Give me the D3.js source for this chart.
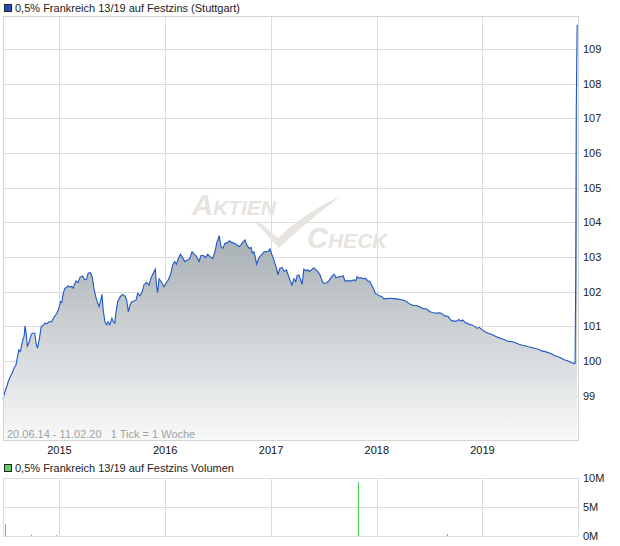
<!DOCTYPE html>
<html>
<head>
<meta charset="utf-8">
<script src="https://cdn.jsdelivr.net/npm/d3@7.9.0/dist/d3.min.js"></script>
<style>
  body { margin: 0; background: #fff; }
  svg text { font-family: "Liberation Sans", Arial, sans-serif; white-space: pre; }
</style>
</head>
<body>
<svg id="chart" width="620" height="546"></svg>
<script>
const title = '0,5% Frankreich 13/19 auf Festzins (Stuttgart)';
const volTitle = '0,5% Frankreich 13/19 auf Festzins Volumen';
const periodText = '20.06.14 - 11.02.20   1 Tick = 1 Woche';

// weekly-ish price ticks
const dates = [
  '2014-06-20','2014-06-27','2014-07-03','2014-07-08','2014-07-14','2014-07-22','2014-07-28','2014-08-04',
  '2014-08-08','2014-08-14','2014-08-18','2014-08-21','2014-08-26','2014-09-01','2014-09-04','2014-09-08',
  '2014-09-12','2014-09-18','2014-09-25','2014-09-29','2014-10-08','2014-10-12','2014-10-17','2014-10-23',
  '2014-10-30','2014-11-06','2014-11-12','2014-11-18','2014-11-26','2014-12-05','2014-12-13','2014-12-22',
  '2014-12-29','2015-01-05','2015-01-09','2015-01-14','2015-01-20','2015-01-26','2015-01-31','2015-02-06',
  '2015-02-12','2015-02-17','2015-02-27','2015-03-06','2015-03-13','2015-03-21','2015-03-30','2015-04-05',
  '2015-04-10','2015-04-18','2015-04-24','2015-04-30','2015-05-06','2015-05-13','2015-05-18','2015-05-24',
  '2015-05-28','2015-06-01','2015-06-07','2015-06-13','2015-06-18','2015-06-24','2015-07-01','2015-07-06',
  '2015-07-11','2015-07-15','2015-07-21','2015-07-29','2015-08-06','2015-08-15','2015-08-21','2015-08-27',
  '2015-09-02','2015-09-08','2015-09-16','2015-09-23','2015-09-28','2015-10-06','2015-10-14','2015-10-20',
  '2015-10-29','2015-11-06','2015-11-13','2015-11-21','2015-11-28','2015-12-02','2015-12-06','2015-12-11',
  '2015-12-20','2015-12-28','2016-01-04','2016-01-12','2016-01-20','2016-01-27','2016-02-03','2016-02-09',
  '2016-02-16','2016-02-23','2016-03-01','2016-03-09','2016-03-18','2016-03-26','2016-04-03','2016-04-10',
  '2016-04-19','2016-04-27','2016-05-04','2016-05-12','2016-05-20','2016-05-27','2016-06-04','2016-06-13',
  '2016-06-21','2016-06-27','2016-07-03','2016-07-06','2016-07-12','2016-07-18','2016-07-26','2016-08-02',
  '2016-08-09','2016-08-17','2016-08-26','2016-09-04','2016-09-12','2016-09-19','2016-09-27','2016-10-03',
  '2016-10-09','2016-10-17','2016-10-24','2016-10-28','2016-11-03','2016-11-08','2016-11-12','2016-11-17',
  '2016-11-23','2016-12-01','2016-12-08','2016-12-16','2016-12-24','2016-12-28','2017-01-03','2017-01-08',
  '2017-01-14','2017-01-20','2017-01-25','2017-01-31','2017-02-08','2017-02-15','2017-02-23','2017-03-01',
  '2017-03-07','2017-03-14','2017-03-21','2017-03-27','2017-04-01','2017-04-07','2017-04-13','2017-04-18',
  '2017-04-24','2017-05-01','2017-05-07','2017-05-13','2017-05-21','2017-05-29','2017-06-05','2017-06-13',
  '2017-06-19','2017-06-25','2017-06-30','2017-07-08','2017-07-18','2017-07-26','2017-08-01','2017-08-07',
  '2017-08-13','2017-08-21','2017-08-30','2017-09-07','2017-09-13','2017-09-24','2017-10-06','2017-10-14',
  '2017-10-20','2017-10-25','2017-11-01','2017-11-09','2017-11-17','2017-11-24','2017-11-30','2017-12-08',
  '2017-12-14','2017-12-20','2017-12-27','2018-01-02','2018-01-09','2018-01-18','2018-01-26','2018-02-15',
  '2018-03-10','2018-04-02','2018-04-14','2018-04-25','2018-05-07','2018-05-19','2018-05-30','2018-06-10',
  '2018-06-22','2018-07-04','2018-07-15','2018-07-27','2018-08-07','2018-08-16','2018-08-24','2018-09-05',
  '2018-09-13','2018-09-22','2018-10-04','2018-10-11','2018-10-18','2018-10-25','2018-11-02','2018-11-13',
  '2018-11-25','2018-12-06','2018-12-14','2018-12-21','2018-12-29','2019-01-09','2019-01-21','2019-02-01',
  '2019-02-13','2019-02-24','2019-03-08','2019-03-19','2019-03-31','2019-04-12','2019-04-23','2019-05-05',
  '2019-05-16','2019-05-28','2019-06-08','2019-06-20','2019-07-01','2019-07-13','2019-07-25','2019-08-05',
  '2019-08-16','2019-08-28','2019-09-08','2019-09-20','2019-10-01','2019-10-13','2019-10-24','2019-11-05',
  '2019-11-13','2019-11-17','2019-11-19','2019-11-21','2019-11-24'
];
const prices = [
  98.90, 99.12, 99.26, 99.40, 99.53, 99.65, 99.79, 99.89,
  100.08, 100.32, 100.27, 100.34, 100.56, 100.72, 101.01, 100.80,
  100.43, 100.53, 100.75, 100.80, 100.80, 100.51, 100.37, 100.61,
  100.99, 101.02, 101.09, 101.07, 101.13, 101.13, 101.26, 101.36,
  101.49, 101.71, 101.69, 101.95, 102.10, 102.12, 102.17, 102.13,
  102.15, 102.10, 102.31, 102.26, 102.41, 102.45, 102.34, 102.36,
  102.53, 102.55, 102.43, 102.10, 101.86, 101.67, 101.57, 101.76,
  101.92, 101.47, 101.13, 101.04, 101.13, 101.04, 101.23, 101.13,
  101.09, 101.38, 101.71, 101.84, 101.92, 101.88, 101.76, 101.42,
  101.62, 101.71, 101.73, 101.76, 101.95, 101.88, 102.00, 102.20,
  102.27, 102.19, 102.39, 102.53, 102.65, 102.19, 101.97, 102.37,
  102.27, 102.14, 102.24, 102.34, 102.50, 102.77, 102.87, 102.79,
  102.96, 103.08, 102.98, 102.87, 102.91, 102.96, 103.15, 103.08,
  103.01, 102.87, 103.04, 103.04, 102.98, 103.08, 103.01, 102.96,
  103.15, 103.40, 103.54, 103.61, 103.30, 103.25, 103.40, 103.40,
  103.47, 103.42, 103.40, 103.35, 103.30, 103.35, 103.44, 103.49,
  103.35, 103.25, 103.27, 103.11, 103.15, 102.96, 102.79, 102.91,
  103.01, 103.08, 103.15, 103.15, 103.17, 103.23, 103.08, 102.98,
  102.82, 102.67, 102.48, 102.67, 102.70, 102.58, 102.63, 102.48,
  102.34, 102.19, 102.37, 102.29, 102.46, 102.48, 102.34, 102.21,
  102.65, 102.60, 102.63, 102.58, 102.63, 102.69, 102.63, 102.56,
  102.48, 102.34, 102.24, 102.24, 102.29, 102.39, 102.46, 102.50,
  102.40, 102.43, 102.43, 102.46, 102.31, 102.31, 102.31, 102.34,
  102.31, 102.43, 102.39, 102.40, 102.37, 102.39, 102.31, 102.29,
  102.19, 102.10, 101.95, 101.92, 101.88, 101.86, 101.79, 101.81,
  101.79, 101.76, 101.71, 101.64, 101.60, 101.60, 101.56, 101.51,
  101.50, 101.42, 101.39, 101.38, 101.39, 101.35, 101.30, 101.28,
  101.18, 101.15, 101.15, 101.20, 101.15, 101.18, 101.11, 101.07,
  101.04, 100.99, 100.94, 100.97, 100.91, 100.85, 100.80, 100.77,
  100.72, 100.68, 100.64, 100.61, 100.56, 100.56, 100.53, 100.49,
  100.46, 100.44, 100.41, 100.39, 100.36, 100.34, 100.29, 100.27,
  100.24, 100.20, 100.15, 100.12, 100.08, 100.03, 100.00, 99.95,
  99.93, 99.93, 102.35, 107.20, 109.70
];

const volDates = ['2014-06-28', '2014-09-25', '2014-12-21', '2017-10-27', '2018-08-30'];
const volumes = [2.05e6, 0.2e6, 0.15e6, 9.3e6, 0.35e6];

const yearTicks = ['2015', '2016', '2017', '2018', '2019'];
const priceTicks = [99, 100, 101, 102, 103, 104, 105, 106, 107, 108, 109];
const volTicks = [0, 5e6, 10e6];
const volTickLabels = ['0M', '5M', '10M'];

const parse = d3.timeParse('%Y-%m-%d');
const data = dates.map((d, i) => ({ date: parse(d), value: prices[i] }));
const volData = volDates.map((d, i) => ({ date: parse(d), value: volumes[i] }));

const svg = d3.select('#chart');
const pLeft = 3, pRight = 578;
const pTop = 16, pBottom = 440;
const vTop = 478, vBottom = 536;
const fs = 11;

let x = d3.scaleTime()
  .domain([parse('2014-06-20'), parse('2019-11-27')])
  .range([pLeft, pRight]);
let y = d3.scaleLinear().domain([97.72, 109.95]).range([pBottom, pTop]);
let yv = d3.scaleLinear().domain([0, 10e6]).range([vBottom, vTop]);

const crisp = (v) => Math.round(v) + 0.5;
const gridColor = '#dcdcdc';
const yearDates = yearTicks.map((t) => parse(t + '-01-01'));

// gradient for the area
let defs = svg.append('defs');
let grad = defs.append('linearGradient')
  .attr('id', 'fillGrad')
  .attr('gradientUnits', 'userSpaceOnUse')
  .attr('x1', 0).attr('x2', 0)
  .attr('y1', y(103.7)).attr('y2', pBottom);
grad.append('stop').attr('offset', 0).attr('stop-color', '#a6aeb3');
grad.append('stop').attr('offset', 1).attr('stop-color', '#f8f9f9');

// legend
svg.append('rect').attr('x', 4.5).attr('y', 4.5).attr('width', 7).attr('height', 7)
  .attr('fill', '#1f50b8').attr('stroke', '#222');
svg.append('text').attr('x', 15).attr('y', 12).attr('font-size', fs).attr('fill', '#222').text(title);

// grid of the price panel
let grid = svg.append('g');
grid.selectAll('line.h').data(priceTicks).join('line')
  .attr('x1', pLeft).attr('x2', pRight)
  .attr('y1', (d) => crisp(y(d))).attr('y2', (d) => crisp(y(d)))
  .attr('stroke', gridColor);
grid.selectAll('line.v').data(yearDates).join('line')
  .attr('x1', (d) => crisp(x(d))).attr('x2', (d) => crisp(x(d)))
  .attr('y1', pTop).attr('y2', pBottom)
  .attr('stroke', gridColor);

// watermark
let wm = svg.append('g').attr('fill', '#e7e3de').attr('font-style', 'italic').attr('font-weight', 'bold');
let t1 = wm.append('text').attr('x', 192).attr('y', 215);
t1.append('tspan').attr('font-size', 29).text('A');
t1.append('tspan').attr('font-size', 21).text('KTIEN');
let t2 = wm.append('text').attr('x', 307).attr('y', 248);
t2.append('tspan').attr('font-size', 29).text('C');
t2.append('tspan').attr('font-size', 21).text('HECK');
wm.append('path').attr('d', 'M256,223 L262,224 L278,238 Q305,212 341,196 Q306,222 279,248 Z');

// area + line
let area = d3.area().x((d) => x(d.date)).y0(pBottom).y1((d) => y(d.value));
let line = d3.line().x((d) => x(d.date)).y((d) => y(d.value));
svg.append('path').datum(data).attr('d', area).attr('fill', 'url(#fillGrad)');
svg.append('path').datum(data).attr('d', line)
  .attr('fill', 'none').attr('stroke', '#1f56c6').attr('stroke-width', 1.1);

// frame
svg.append('rect').attr('x', pLeft + 0.5).attr('y', pTop + 0.5)
  .attr('width', pRight - pLeft).attr('height', pBottom - pTop)
  .attr('fill', 'none').attr('stroke', '#d4d4d4');

// period text
svg.append('text').attr('x', 7).attr('y', 438).attr('font-size', fs).attr('fill', '#a0a0a0').text(periodText);

// price labels
svg.append('g').selectAll('text').data(priceTicks).join('text')
  .attr('x', 583).attr('y', (d) => y(d) + 4)
  .attr('font-size', fs).attr('fill', '#222')
  .text((d) => d);

// year labels
svg.append('g').selectAll('text').data(yearDates).join('text')
  .attr('x', (d) => x(d)).attr('y', 454)
  .attr('text-anchor', 'middle').attr('font-size', fs).attr('fill', '#111')
  .text((d, i) => yearTicks[i]);

// volume panel
svg.append('rect').attr('x', 4.5).attr('y', 464.5).attr('width', 7).attr('height', 7)
  .attr('fill', '#66cc66').attr('stroke', '#222');
svg.append('text').attr('x', 15).attr('y', 472).attr('font-size', fs).attr('fill', '#222').text(volTitle);

let vgrid = svg.append('g');
vgrid.selectAll('line.h').data(volTicks).join('line')
  .attr('x1', pLeft).attr('x2', pRight)
  .attr('y1', (d) => crisp(yv(d))).attr('y2', (d) => crisp(yv(d)))
  .attr('stroke', gridColor);
vgrid.selectAll('line.v').data(yearDates.concat([x.domain()[0], x.domain()[1]])).join('line')
  .attr('x1', (d) => crisp(x(d))).attr('x2', (d) => crisp(x(d)))
  .attr('y1', vTop).attr('y2', vBottom)
  .attr('stroke', gridColor);

svg.append('g').selectAll('line').data(volData).join('line')
  .attr('x1', (d) => crisp(x(d.date))).attr('x2', (d) => crisp(x(d.date)))
  .attr('y1', yv(0)).attr('y2', (d) => yv(d.value))
  .attr('stroke', '#55cc55').attr('stroke-width', 1);

svg.append('g').selectAll('text').data(volTicks).join('text')
  .attr('x', 583).attr('y', (d) => yv(d) + 4)
  .attr('font-size', fs).attr('fill', '#222')
  .text((d, i) => volTickLabels[i]);
</script>
</body>
</html>
